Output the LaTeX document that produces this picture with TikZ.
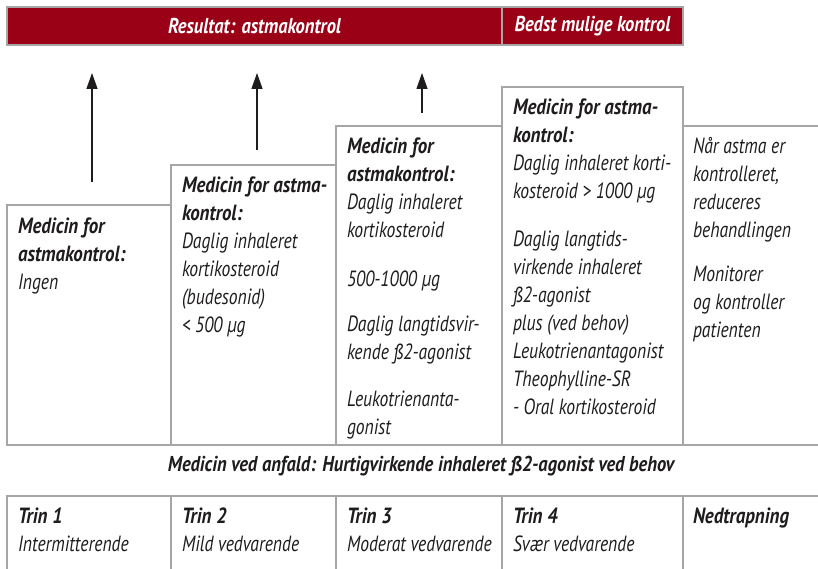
\documentclass[tikz,border=0pt]{standalone}
\usepackage{fontspec}
\setmainfont{PT Sans}[FakeStretch=0.80,BoldItalicFeatures={FakeStretch=0.86}]
\usetikzlibrary{arrows.meta}
\definecolor{barred}{HTML}{9A0016}
\definecolor{linegray}{HTML}{A6A6A6}
\definecolor{ink}{HTML}{1F1C1D}
\begin{document}
\begin{tikzpicture}[x=1pt,y=-1pt,
  box/.style={draw=linegray,line width=1.4pt,inner sep=0pt,outer sep=0pt,anchor=south west},
  cell/.style={draw=linegray,line width=1.4pt,inner sep=0pt,outer sep=0pt,anchor=north west,minimum height=95pt},
  bar/.style={fill=barred,draw=linegray,line width=1.2pt,inner sep=0pt,outer sep=0pt,minimum height=38pt,anchor=north west,text=white,font=\bfseries\itshape\fontsize{21.5}{24}\selectfont},
  body/.style={anchor=north west,inner sep=0pt,outer sep=0pt,align=left,text=ink,font=\itshape\fontsize{22}{28}\selectfont},
  arr/.style={-{Triangle[length=16pt,width=11pt]},line width=1.3pt,draw=ink},
]
\useasboundingbox (0,0) rectangle (818,569);
% header bar
\node[bar,minimum width=495pt] (res) at (7,7) {Resultat: astmakontrol};
\node[bar,minimum width=181pt] (best) at (502,7) {Bedst mulige kontrol};
% arrows
\coordinate (a1s) at (92,182); \coordinate (a1e) at (92,73);
\coordinate (a2s) at (257,150); \coordinate (a2e) at (257,73);
\coordinate (a3s) at (422,113); \coordinate (a3e) at (422,73);
\draw[arr] (a1s) -- (a1e);
\draw[arr] (a2s) -- (a2e);
\draw[arr] (a3s) -- (a3e);
% step boxes
\node[box,minimum width=140pt,minimum height=319pt] (s5) at (683,445) {};
\node[box,minimum width=164pt,minimum height=240pt] (s1) at (7,445) {};
\node[box,minimum width=165pt,minimum height=280pt] (s2) at (171,445) {};
\node[box,minimum width=166pt,minimum height=319pt] (s3) at (336,445) {};
\node[box,minimum width=181pt,minimum height=358pt] (s4) at (502,445) {};
% step texts
\node[body] (t1) at ([xshift=11pt,yshift=-12.5pt]s1.north west)
  {\textbf{Medicin for}\\\textbf{astmakontrol:}\\Ingen};
\node[body] (t2) at ([xshift=11pt,yshift=-11.5pt]s2.north west)
  {\textbf{Medicin for astma-}\\\textbf{kontrol:}\\Daglig inhaleret\\kortikosteroid\\(budesonid)\\< 500 µg};
\node[body] (t3) at ([xshift=11pt,yshift=-11.5pt]s3.north west)
  {\textbf{Medicin for}\\\textbf{astmakontrol:}\\Daglig inhaleret\\kortikosteroid\\[21pt]500-1000 µg\\[17pt]Daglig langtidsvir-\\kende ß2-agonist\\[19pt]Leukotrienanta-\\gonist};
\node[body] (t4) at ([xshift=11pt,yshift=-11.5pt]s4.north west)
  {\textbf{Medicin for astma-}\\\textbf{kontrol:}\\Daglig inhaleret korti-\\kosteroid > 1000 µg\\[20pt]Daglig langtids-\\virkende inhaleret\\ß2-agonist\\plus (ved behov)\\Leukotrienantagonist\\Theophylline-SR\\- Oral kortikosteroid};
\node[body] (t5) at ([xshift=10pt,yshift=-11.5pt]s5.north west)
  {Når astma er\\kontrolleret,\\reduceres\\behandlingen\\[16pt]Monitorer\\og kontroller\\patienten};
% rescue medication line
\node[text=ink,font=\bfseries\itshape\fontsize{21.5}{24}\selectfont,inner sep=0pt] (resc) at (421,466)
  {Medicin ved anfald: Hurtigvirkende inhaleret ß2-agonist ved behov};
% lower table
\node[cell,minimum width=164pt] (c1) at (7,496) {};
\node[cell,minimum width=165pt] (c2) at (171,496) {};
\node[cell,minimum width=166pt] (c3) at (336,496) {};
\node[cell,minimum width=181pt] (c4) at (502,496) {};
\node[cell,minimum width=145pt] (c5) at (683,496) {};
\node[body] (l1) at ([xshift=11pt,yshift=-12pt]c1.north west) {\textbf{Trin 1}\\Intermitterende};
\node[body] (l2) at ([xshift=11pt,yshift=-12pt]c2.north west) {\textbf{Trin 2}\\Mild vedvarende};
\node[body] (l3) at ([xshift=11pt,yshift=-12pt]c3.north west) {\textbf{Trin 3}\\Moderat vedvarende};
\node[body] (l4) at ([xshift=11pt,yshift=-12pt]c4.north west) {\textbf{Trin 4}\\Svær vedvarende};
\node[body] (l5) at ([xshift=10pt,yshift=-12pt]c5.north west) {\textbf{Nedtrapning}};
\end{tikzpicture}
\end{document}
